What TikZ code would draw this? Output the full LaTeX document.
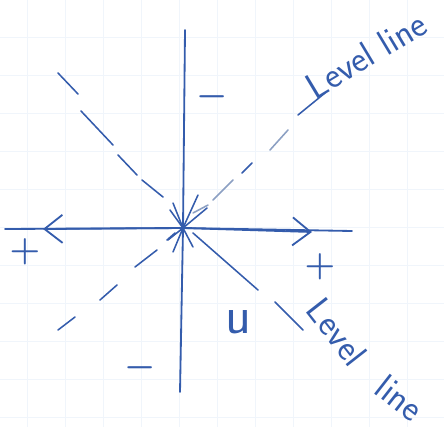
\documentclass[tikz,border=0pt]{standalone}
\usepackage{tikz}
\usetikzlibrary{arrows.meta,positioning,calc}
\definecolor{Ink}{RGB}{52,92,172}
\definecolor{FadedInk}{RGB}{140,160,195}
\definecolor{GridBlue}{RGB}{240,245,251}
\tikzset{
  >=Straight Barb,
  axis/.style={draw=Ink,line width=1.3pt,line cap=round},
  tip/.style={draw=Ink,line width=1.3pt,line cap=round,-{Straight Barb[length=4.5mm,width=7mm,line width=1.3pt]}},
  stroke/.style={draw=Ink,line width=1.1pt,line cap=round},
  faded/.style={draw=FadedInk,line width=1.1pt,line cap=round},
  sign/.style={text=Ink,font=\fontsize{26}{28}\selectfont\boldmath,inner sep=0pt},
  hand/.style={text=Ink,font=\sffamily\fontsize{26}{28}\selectfont,inner sep=0pt},
  paper/.style={draw=GridBlue,line width=.6pt}
}
\begin{document}
\begin{tikzpicture}[x=0.025cm,y=-0.025cm]
  \useasboundingbox (0,0) rectangle (444,427);
  % squared paper
  \foreach \gx in {27,65,...,444} \draw[paper] (\gx,0)--(\gx,427);
  \foreach \gy in {37,75,...,427} \draw[paper] (0,\gy)--(444,\gy);
  % axes
  \coordinate (O) at (183,228);
  \coordinate (top) at (185,30);
  \coordinate (bottom) at (180,392);
  \coordinate (left) at (5,229);
  \coordinate (right) at (352,231);
  \draw[axis] (top)--(O)--(bottom);
  \draw[axis] (left)--(O)--(right);
  \coordinate (rtip) at (312,232);
  \coordinate (ltip) at (43,229);
  \draw[tip] (O)--(rtip);
  \draw[tip] (O)--(ltip);
  % level lines through the origin
  \draw[stroke] (58,73)--(78,94);
  \draw[stroke] (81,111)--(113,145);
  \draw[stroke] (118,155)--(137,175);
  \draw[stroke] (142,180)--(163,197);
  \draw[stroke] (298,115)--(325,93);
  \draw[faded] (270,150)--(288,130);
  \draw[stroke] (242,173)--(252,163);
  \draw[faded] (213,200)--(233,180);
  \draw[faded] (193,213)--(208,205);
  \draw[stroke] (58,330)--(75,317);
  \draw[stroke] (100,300)--(117,285);
  \draw[stroke] (135,267)--(157,250);
  \draw[stroke] (167,240)--(175,233);
  \draw[stroke] (193,233)--(258,290);
  \draw[stroke] (275,302)--(303,330);
  % strokes at the origin
  \foreach \sx/\sy in {173/203,198/195,207/208,170/210,173/252,193/247,168/240}
    \draw[stroke] (\sx,\sy)--(O);
  % signs
  \node[sign] (mtop) at (212,97) {$-$};
  \node[sign] (pleft) at (25,252) {$+$};
  \node[sign] (pright) at (320,267) {$+$};
  \node[sign] (mbottom) at (140,368) {$-$};
  \node[hand,font=\sffamily\fontsize{38}{40}\selectfont] (u) at (238,322) {u};
  % labels
  \node[hand,rotate=31] (lvtop) at (366,55) {Level line};
  \node[hand,rotate=-52] (lvbot) at (337,332) {Level};
  \node[hand,rotate=-38] (lnbot) at (400,398) {line};
\end{tikzpicture}
\end{document}
